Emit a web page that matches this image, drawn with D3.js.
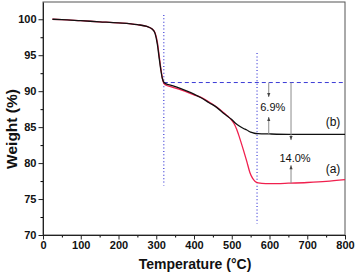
<!DOCTYPE html>
<html>
<head>
<meta charset="utf-8">
<script src="https://cdn.jsdelivr.net/npm/d3@7"></script>
<style>
  body { margin: 0; background: #fff; }
  text { font-family: "Liberation Sans", Arial, sans-serif; }
</style>
</head>
<body>
<svg id="chart" width="356" height="275"></svg>
<script>
// Curve (b) - black
var tempB = [25, 50, 100, 150, 200, 250, 275, 290, 297, 303, 308, 312, 316, 320, 325, 340, 360, 380, 400, 420, 440, 460, 480, 500, 510, 520, 530, 540, 550, 560, 570, 600, 650, 700, 750, 800];
var weightB = [100, 99.95, 99.8, 99.65, 99.5, 99.25, 99.0, 98.6, 98.0, 96.5, 94.5, 93.0, 91.8, 91.25, 91.05, 90.8, 90.45, 90.05, 89.6, 89.05, 88.4, 87.75, 86.85, 86.05, 85.55, 85.15, 84.85, 84.6, 84.3, 84.15, 84.1, 84.05, 84.0, 84.0, 84.0, 84.0];

// Curve (a) - red
var tempA = [25, 50, 100, 150, 200, 250, 275, 290, 297, 303, 308, 312, 316, 320, 325, 340, 360, 380, 400, 420, 440, 460, 480, 490, 500, 507, 513, 520, 531, 540, 548, 555, 562, 570, 590, 620, 650, 700, 750, 800];
var weightA = [100, 99.95, 99.8, 99.65, 99.5, 99.25, 99.0, 98.6, 98.1, 96.8, 94.8, 93.2, 91.9, 91.1, 90.85, 90.6, 90.3, 89.9, 89.5, 89.1, 88.5, 87.8, 86.95, 86.5, 85.95, 85.4, 84.7, 83.65, 81.8, 80.2, 78.7, 77.9, 77.45, 77.25, 77.15, 77.15, 77.2, 77.3, 77.45, 77.7];

// Axis ticks
var xTicks = [0, 100, 200, 300, 400, 500, 600, 700, 800];
var xMinor = [50, 150, 250, 350, 450, 550, 650, 750];
var yTicks = [70, 75, 80, 85, 90, 95, 100];
var yMinor = [72.5, 77.5, 82.5, 87.5, 92.5, 97.5, 102.5];

// Annotation values
var onsetTemps = [320, 567];
var refWeight = 91.2;
var lossB = { temp: 598, to: 84.05, label: "6.9%" };
var lossA = { temp: 657, to: 77.2, label: "14.0%" };

var svg = d3.select("#chart");

var x = d3.scaleLinear().domain([0, 800]).range([43, 345]);
var y = d3.scaleLinear().domain([70, 102.4]).range([235, 2]);

// Frame
svg.append("rect")
    .attr("x", x(0)).attr("y", y(102.4))
    .attr("width", x(800) - x(0)).attr("height", y(70) - y(102.4))
    .attr("fill", "none").attr("stroke", "#555").attr("stroke-width", 1);

// Minor ticks
svg.append("g")
    .attr("transform", "translate(0," + y(70) + ")")
    .call(d3.axisBottom(x).tickValues(xMinor).tickSize(2.5).tickFormat(""))
    .call(g => g.select(".domain").remove());
svg.append("g")
    .attr("transform", "translate(" + x(0) + ",0)")
    .call(d3.axisLeft(y).tickValues(yMinor.filter(d => d < 102.4)).tickSize(2.5).tickFormat(""))
    .call(g => g.select(".domain").remove());

// Major axes
var xAxis = svg.append("g")
    .attr("transform", "translate(0," + y(70) + ")")
    .call(d3.axisBottom(x).tickValues(xTicks).tickSize(4.5).tickSizeOuter(0).tickPadding(2));
var yAxis = svg.append("g")
    .attr("transform", "translate(" + x(0) + ",0)")
    .call(d3.axisLeft(y).tickValues(yTicks).tickSize(4.5).tickSizeOuter(0).tickPadding(2));

[xAxis, yAxis].forEach(function(g) {
    g.selectAll("text")
        .attr("fill", "#111")
        .style("font-size", "11px")
        .style("font-weight", "bold")
        .style("font-family", "'Liberation Sans', Arial, sans-serif");
    g.selectAll("line").attr("stroke", "#222");
    g.select(".domain").attr("stroke", "#222");
});

// Dotted vertical onset lines
svg.append("line")
    .attr("x1", x(onsetTemps[0])).attr("x2", x(onsetTemps[0]))
    .attr("y1", y(100.6)).attr("y2", y(76.9))
    .attr("stroke", "#3b3bd6").attr("stroke-width", 1.2).attr("stroke-dasharray", "1,2.4");
svg.append("line")
    .attr("x1", x(onsetTemps[1])).attr("x2", x(onsetTemps[1]))
    .attr("y1", y(95.3)).attr("y2", y(71.6))
    .attr("stroke", "#3b3bd6").attr("stroke-width", 1.2).attr("stroke-dasharray", "1,2.4");

// Dashed reference line
svg.append("line")
    .attr("x1", x(onsetTemps[0])).attr("x2", x(800))
    .attr("y1", y(refWeight)).attr("y2", y(refWeight))
    .attr("stroke", "#3b3bd6").attr("stroke-width", 1).attr("stroke-dasharray", "4,3");

// Curves
var line = d3.line()
    .x(d => x(d[0]))
    .y(d => y(d[1]))
    .curve(d3.curveMonotoneX);

svg.append("path")
    .datum(tempA.map((t, i) => [t, weightA[i]]))
    .attr("d", line)
    .attr("fill", "none").attr("stroke", "#f0204e").attr("stroke-width", 1.3);

svg.append("path")
    .datum(tempB.map((t, i) => [t, weightB[i]]))
    .attr("d", line)
    .attr("fill", "none").attr("stroke", "#111").attr("stroke-width", 1.3);

// Weight loss markers
function arrowHead(px, py, dir) {
    // dir: 1 = pointing down, -1 = pointing up
    svg.append("path")
        .attr("d", "M" + (px - 1.6) + "," + (py - dir * 4) + "L" + px + "," + py + "L" + (px + 1.6) + "," + (py - dir * 4) + "Z")
        .attr("fill", "#444");
}

function lossMarker(m, textW, topEnd, botStart) {
    var px = x(m.temp);
    svg.append("line")
        .attr("x1", px).attr("x2", px)
        .attr("y1", y(refWeight)).attr("y2", y(topEnd))
        .attr("stroke", "#8c8c8c").attr("stroke-width", 1);
    arrowHead(px, y(topEnd), 1);
    svg.append("line")
        .attr("x1", px).attr("x2", px)
        .attr("y1", y(botStart)).attr("y2", y(m.to))
        .attr("stroke", "#8c8c8c").attr("stroke-width", 1);
    arrowHead(px, y(botStart), -1);
    svg.append("text")
        .attr("x", px + 4).attr("y", y(textW))
        .attr("dy", "0.35em")
        .attr("text-anchor", "middle")
        .style("font-size", "11px")
        .attr("fill", "#111")
        .text(m.label);
}

lossMarker(lossB, 87.75, 89.2, 86.4);
lossMarker(lossA, 80.75, 83.2, 79.7);

// Curve labels
svg.append("text").attr("x", 333).attr("y", 122).attr("dy", "0.35em")
    .attr("text-anchor", "middle").style("font-size", "12px").attr("fill", "#111").text("(b)");
svg.append("text").attr("x", 333).attr("y", 169).attr("dy", "0.35em")
    .attr("text-anchor", "middle").style("font-size", "12px").attr("fill", "#111").text("(a)");

// Axis titles
svg.append("text")
    .attr("x", 195).attr("y", 269)
    .attr("text-anchor", "middle")
    .style("font-size", "14px").style("font-weight", "bold")
    .attr("fill", "#111")
    .text("Temperature (°C)");

svg.append("text")
    .attr("transform", "translate(17,129) rotate(-90)")
    .attr("text-anchor", "middle")
    .style("font-size", "15.5px").style("font-weight", "bold")
    .attr("fill", "#111")
    .text("Weight (%)");
</script>
</body>
</html>
